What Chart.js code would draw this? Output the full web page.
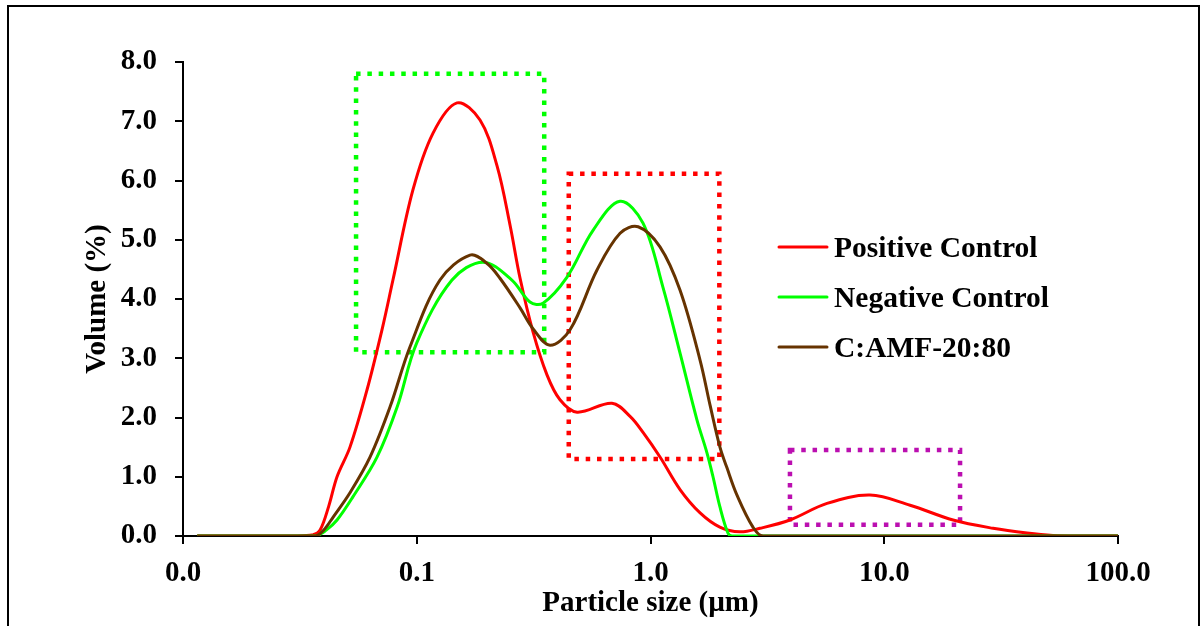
<!DOCTYPE html>
<html>
<head>
<meta charset="utf-8">
<script src="https://cdn.jsdelivr.net/npm/chart.js@4.4.1/dist/chart.umd.min.js"></script>
<style>
  html, body { margin: 0; padding: 0; background: #fff; }
  canvas { display: block; }
</style>
</head>
<body>
<canvas id="psd" width="1202" height="626"></canvas>
<script>
// particle size (µm) / volume (%)
const positiveX = [0.0115, 0.02, 0.03, 0.036, 0.0386, 0.042, 0.0456, 0.0518, 0.0612, 0.071, 0.0791, 0.0963, 0.1174, 0.1487, 0.1865, 0.2204, 0.2506, 0.2767, 0.3141, 0.3607, 0.41, 0.4853, 0.684, 0.8175, 0.929, 1.1, 1.34, 1.63, 1.98, 2.41, 2.94, 3.95, 5.69, 8.69, 12.9, 19.7, 29.2, 40.8, 52.7, 70, 100];
const positiveY = [0, 0, 0, 0.02, 0.1, 0.5, 1.0, 1.5, 2.46, 3.48, 4.32, 5.84, 6.8, 7.31, 7.02, 6.25, 5.25, 4.35, 3.45, 2.72, 2.3, 2.09, 2.24, 2.02, 1.75, 1.33, 0.78, 0.39, 0.15, 0.07, 0.13, 0.27, 0.55, 0.69, 0.52, 0.27, 0.13, 0.05, 0.01, 0, 0];

const negativeX = [0.0115, 0.03, 0.037, 0.041, 0.0456, 0.0533, 0.0676, 0.0825, 0.1, 0.1415, 0.192, 0.2553, 0.3049, 0.3467, 0.4395, 0.5678, 0.741, 0.929, 1.13, 1.337, 1.58, 1.745, 1.851, 1.982, 2.144, 2.232, 2.856, 100];
const negativeY = [0, 0, 0, 0.1, 0.27, 0.66, 1.33, 2.18, 3.26, 4.32, 4.62, 4.32, 3.95, 3.93, 4.37, 5.16, 5.65, 5.28, 4.2, 3.09, 1.96, 1.4, 1.0, 0.49, 0.05, 0, 0, 0];

const amfX = [0.0115, 0.03, 0.037, 0.04, 0.0439, 0.0518, 0.0631, 0.0769, 0.0935, 0.1257, 0.169, 0.2, 0.227, 0.2767, 0.3141, 0.3715, 0.4528, 0.5904, 0.741, 0.885, 1.098, 1.337, 1.629, 1.8, 1.982, 2.124, 2.344, 2.743, 3.03, 100];
const amfY = [0, 0, 0, 0.1, 0.32, 0.73, 1.33, 2.18, 3.19, 4.32, 4.74, 4.6, 4.35, 3.85, 3.5, 3.22, 3.48, 4.49, 5.11, 5.22, 4.88, 4.15, 2.97, 2.2, 1.5, 1.15, 0.69, 0.15, 0, 0];

const seriesNames = ['Positive Control', 'Negative Control', 'C:AMF-20:80'];
const xTicks = [0.01, 0.1, 1, 10, 100];
const yMin = 0, yMax = 8, yStep = 1;

// highlighted regions: [xFrom, xTo, yFrom, yTo]
const greenBox = [0.055, 0.351, 3.1, 7.8];
const redBox = [0.447, 1.97, 1.3, 6.115];
const purpleBox = [3.95, 21.1, 0.19, 1.45];

const FONT = 'Liberation Serif, Times New Roman, serif';
Chart.defaults.font.family = FONT;
Chart.defaults.font.weight = 'bold';
Chart.defaults.font.size = 29;
Chart.defaults.color = '#000';

const pairs = (xs, ys) => xs.map((x, i) => ({ x: x, y: ys[i] }));

function lineSet(label, xs, ys, color, order) {
    return {
        label: label,
        data: pairs(xs, ys),
        borderColor: color,
        backgroundColor: color,
        borderWidth: 3,
        pointRadius: 0,
        fill: false,
        tension: 0.35,
        order: order,
    };
}

const boxPlugin = {
    id: 'dottedBoxes',
    beforeDatasetsDraw(chart) {
        const { ctx, scales: { x, y } } = chart;
        const boxes = [[greenBox, '#00ff00'], [redBox, '#ff0000'], [purpleBox, '#bb0fb0']];
        ctx.save();
        ctx.lineWidth = 4.5;
        ctx.setLineDash([4.5, 6.8]);
        boxes.forEach(([b, color]) => {
            const x0 = x.getPixelForValue(b[0]);
            const x1 = x.getPixelForValue(b[1]);
            const y0 = y.getPixelForValue(b[3]);
            const y1 = y.getPixelForValue(b[2]);
            ctx.strokeStyle = color;
            ctx.strokeRect(x0, y0, x1 - x0, y1 - y0);
        });
        ctx.restore();
    },
};

const legendPlugin = {
    id: 'sideLegend',
    afterDraw(chart) {
        const ctx = chart.ctx;
        ctx.save();
        ctx.font = 'bold 29.5px ' + FONT;
        ctx.textBaseline = 'alphabetic';
        ctx.fillStyle = '#000';
        chart.data.datasets.forEach((ds, i) => {
            const yy = 247 + i * 50;
            ctx.strokeStyle = ds.borderColor;
            ctx.lineWidth = 3;
            ctx.lineCap = 'round';
            ctx.beginPath();
            ctx.moveTo(779, yy);
            ctx.lineTo(827, yy);
            ctx.stroke();
            ctx.fillText(ds.label, 834, yy + 10);
        });
        // outer frame
        ctx.strokeStyle = '#000';
        ctx.lineWidth = 2;
        ctx.strokeRect(8, 6, 1191, 640);
        ctx.restore();
    },
};

new Chart(document.getElementById('psd'), {
    type: 'line',
    data: {
        datasets: [
            lineSet(seriesNames[0], positiveX, positiveY, '#ff0000', 2),
            lineSet(seriesNames[1], negativeX, negativeY, '#00ff00', 1),
            lineSet(seriesNames[2], amfX, amfY, '#663300', 0),
        ],
    },
    options: {
        responsive: false,
        animation: false,
        layout: { padding: { left: 0, right: 84, top: 62, bottom: 0 } },
        plugins: { legend: { display: false }, tooltip: { enabled: false } },
        elements: { line: { capBezierPoints: true } },
        scales: {
            x: {
                type: 'logarithmic',
                min: 0.01,
                max: 100,
                afterBuildTicks: (scale) => { scale.ticks = xTicks.map((v) => ({ value: v })); },
                afterFit: (scale) => { scale.height = 90; },
                border: { color: '#000', width: 2 },
                grid: { drawOnChartArea: false, drawTicks: true, tickLength: 8, color: '#000', lineWidth: 2 },
                ticks: { padding: 12, maxRotation: 0, autoSkip: false, callback: (v) => Number(v).toFixed(1) },
                title: { display: true, text: 'Particle size (µm)', padding: { top: 0, bottom: 5 } },
            },
            y: {
                min: yMin,
                max: yMax,
                afterFit: (scale) => { scale.width = 183; },
                border: { color: '#000', width: 2 },
                grid: { drawOnChartArea: false, drawTicks: true, tickLength: 8, color: '#000', lineWidth: 2 },
                ticks: { stepSize: yStep, padding: 18, callback: (v) => Number(v).toFixed(1) },
                title: { display: true, text: 'Volume (%)', padding: { top: 80, bottom: 0 } },
            },
        },
    },
    plugins: [boxPlugin, legendPlugin],
});
</script>
</body>
</html>
